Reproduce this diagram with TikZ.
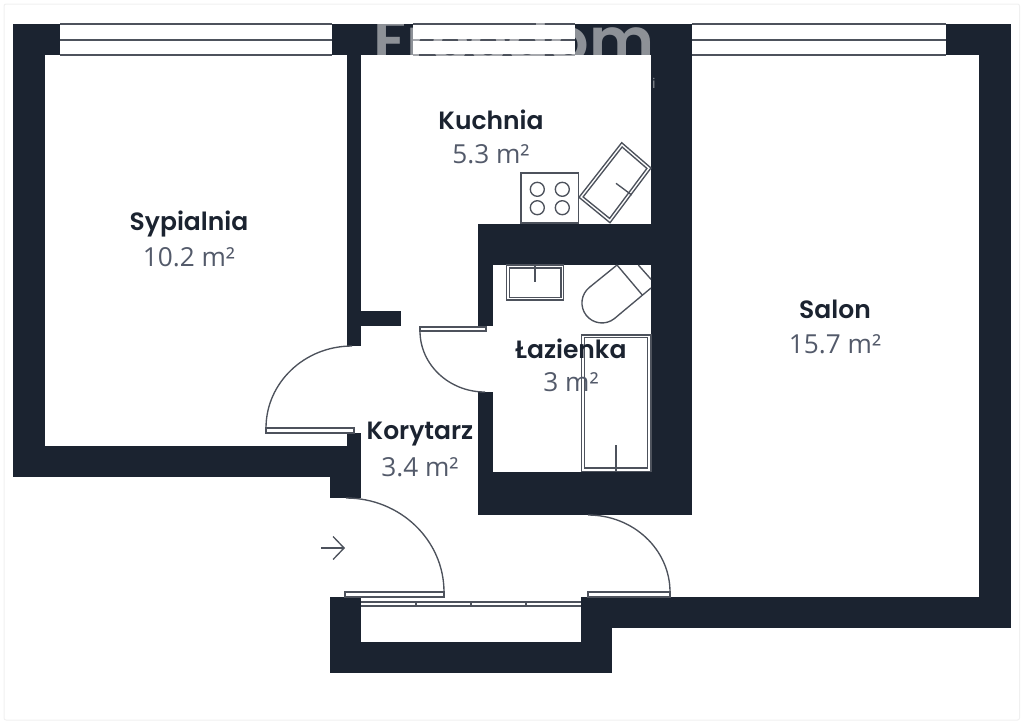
\documentclass[tikz,border=0pt]{standalone}
\usepackage{fontspec}
\usepackage{amsmath}
\usetikzlibrary{arrows.meta}
\setmainfont{Open Sans}
\newfontfamily\roomfont{Poppins}[BoldFont=* SemiBold]
\definecolor{wallcol}{HTML}{1B2330}
\definecolor{linecol}{HTML}{4D525C}
\definecolor{areacol}{HTML}{535A6A}
\tikzset{
    wall/.style={fill=wallcol, draw=none},
    fitting/.style={draw=linecol, line width=1.35pt},
    leaf/.style={draw=linecol, fill=white, line width=1.35pt},
    roomname/.style={font=\roomfont\bfseries\fontsize{25}{25}\selectfont, text=wallcol, inner sep=0pt},
    roomarea/.style={font=\fontsize{26.2}{26}\selectfont, text=areacol, inner sep=0pt}
}
\newcommand{\pane}[2]{
    \fill[white] (#1,24) rectangle (#2,55);
    \draw[fitting] (#1,24) -- (#2,24);
    \draw[fitting] (#1,40) -- (#2,40);
    \draw[fitting] (#1,55) -- (#2,55);
}
\begin{document}
\begin{tikzpicture}[x=1pt,y=-1pt]
    \useasboundingbox (0,0) rectangle (1024,724);
    \draw[rounded corners=2, draw=black!6, line width=1pt] (4,4) rectangle (1019.5,720);

    % walls
    \fill[wall] (13,24) rectangle (45,477);
    \fill[wall] (13,24) rectangle (60,55);
    \fill[wall] (13,446) rectangle (361,477);
    \fill[wall] (330,477) rectangle (361,498);
    \fill[wall] (347,433) rectangle (361,477);
    \fill[wall] (347,55) rectangle (361,346);
    \fill[wall] (361,311) rectangle (401,326);
    \fill[wall] (332,24) rectangle (692,55);
    \fill[wall] (651,24) rectangle (692,515);
    \fill[wall] (478,224) rectangle (692,265);
    \fill[wall] (478,224) rectangle (493,326);
    \fill[wall] (478,392) rectangle (493,515);
    \fill[wall] (478,472) rectangle (692,515);
    \fill[wall] (946,24) rectangle (1011,55);
    \fill[wall] (979,24) rectangle (1011,628);
    \fill[wall] (581,597) rectangle (1011,628);
    \fill[wall] (330,597) rectangle (361,673);
    \fill[wall] (330,642) rectangle (612,673);
    \fill[wall] (581,597) rectangle (612,673);

    % windows
    \pane{60}{332}
    \pane{413}{575}
    \pane{692}{946}
    \draw[fitting] (361,602) -- (581,602);
    \draw[fitting] (361,606) -- (581,606);
    \draw[fitting] (416,602) -- (416,606);
    \draw[fitting] (471,602) -- (471,606);
    \draw[fitting] (526,602) -- (526,606);

    % doors
    \draw[leaf] (266,428) rectangle (354,433);
    \draw[fitting] (266,428) arc[start angle=180, end angle=270, x radius=86, y radius=82];
    \draw[leaf] (420,327) rectangle (486,331);
    \draw[fitting] (420,331) arc[start angle=180, end angle=90, x radius=65, y radius=61];
    \draw[leaf] (345,592) rectangle (444,597);
    \draw[fitting] (444,592) arc[start angle=0, end angle=-90, x radius=98, y radius=94];
    \draw[leaf] (588,592) rectangle (670,597);
    \draw[fitting] (670,592) arc[start angle=0, end angle=-90, x radius=82, y radius=77];
    \coordinate (entryA) at (321,548);
    \coordinate (entryB) at (345,548);
    \draw[fitting, -{Straight Barb[length=11pt,width=23pt]}] (entryA) -- (entryB);

    % kitchen
    \draw[fitting] (521,173) rectangle (578.5,223);
    \foreach \cx in {537.3,562.3}
        \foreach \cy in {189.3,207.7}
            \draw[fitting] (\cx,\cy) circle[radius=7];
    \draw[fitting] (621.7,142.7) -- (651,168) -- (610,222.7) -- (579,197.3) -- cycle;
    \draw[fitting] (622.1,147) -- (646.9,168.4) -- (609.6,218.4) -- (583.1,196.9) -- cycle;
    \draw[fitting] (616,183.3) -- (631.7,195);

    % bathroom
    \draw[fitting] (506.7,265) rectangle (563.3,300);
    \draw[fitting] (509.5,268) rectangle (561,297.5);
    \draw[fitting] (535,265) -- (535,282);
    \draw[fitting] (617,265) -- (642.3,295);
    \draw[fitting] (638.3,265) -- (651,279.3);
    \draw[fitting] (617,265) -- (589.6,287.2) arc[start angle=231.9, end angle=51.9, radius=20] -- (651,288);
    \draw[fitting] (581.7,335) rectangle (651,471.5);
    \draw[fitting] (584.3,337.7) rectangle (647.7,468);
    \draw[fitting] (616,445) -- (616,472);

    % labels
    \node[roomname] (kuchnia) at (491,120) {Kuchnia};
    \node[roomarea] (kuchniaArea) at (491,154.5) {5.3 m²};
    \node[roomname] (sypialnia) at (189,223.5) {Sypialnia};
    \node[roomarea] (sypialniaArea) at (189,257.5) {10.2 m²};
    \node[roomname] (salon) at (835,309) {Salon};
    \node[roomarea] (salonArea) at (835,344.5) {15.7 m²};
    \node[roomname] (lazienka) at (571,348.5) {Łazienka};
    \node[roomarea] (lazienkaArea) at (571,382.5) {3 m²};
    \node[roomname] (korytarz) at (420,434) {Korytarz};
    \node[roomarea] (korytarzArea) at (420,467.5) {3.4 m²};

    % watermark
    \node[font=\roomfont\bfseries\fontsize{62}{62}\selectfont, text=white, opacity=0.5, inner sep=0pt] (mark) at (514,40) {Freedom};
    \node[font=\fontsize{14}{14}\selectfont, text=white, opacity=0.5, inner sep=0pt] (markDot) at (654,83) {i};
\end{tikzpicture}
\end{document}
